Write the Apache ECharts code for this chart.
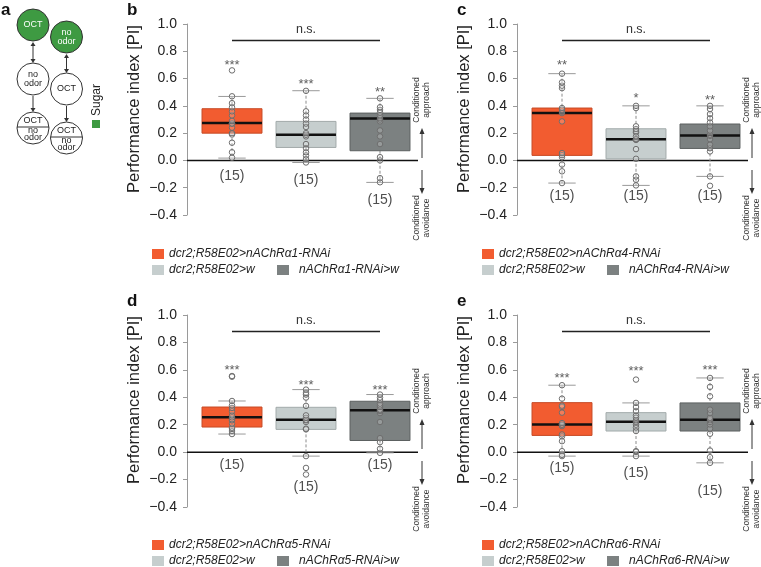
<!DOCTYPE html>
<html><head><meta charset="utf-8">
<script src="https://cdn.jsdelivr.net/npm/echarts@6/dist/echarts.min.js"></script>
<style>html,body{margin:0;padding:0;background:#fff}#c{width:761px;height:567px}</style>
</head><body><div id="c"></div>
<script>
// ---------- data ----------
const categories = ['RNAi', 'GAL4>w', 'UAS>w'];
const yMin = -0.4, yMax = 1.0, yStep = 0.2;
const sampleSizes = [15, 15, 15];

// [lower whisker, Q1, median, Q3, upper whisker]
const statsB = [[0.017, 0.200, 0.274, 0.379, 0.469], [-0.015, 0.095, 0.188, 0.286, 0.511], [-0.161, 0.071, 0.308, 0.347, 0.455]];
const statsC = [[-0.166, 0.037, 0.347, 0.384, 0.636], [-0.183, 0.012, 0.156, 0.232, 0.400], [-0.117, 0.088, 0.183, 0.267, 0.400]];
const statsD = [[0.132, 0.183, 0.254, 0.329, 0.373], [-0.029, 0.166, 0.237, 0.327, 0.456], [-0.005, 0.085, 0.305, 0.371, 0.420]];
const statsE = [[-0.029, 0.122, 0.202, 0.361, 0.488], [-0.029, 0.154, 0.222, 0.288, 0.359], [-0.078, 0.154, 0.237, 0.359, 0.541]];

const pointsB = [
  [0.02, 0.06, 0.13, 0.19, 0.20, 0.24, 0.27, 0.27, 0.29, 0.33, 0.36, 0.39, 0.42, 0.47, 0.66],
  [-0.015, 0.01, 0.037, 0.06, 0.09, 0.12, 0.176, 0.188, 0.20, 0.245, 0.27, 0.30, 0.33, 0.36, 0.51],
  [-0.16, -0.13, 0.00, 0.024, 0.12, 0.176, 0.22, 0.286, 0.30, 0.31, 0.33, 0.35, 0.37, 0.39, 0.455]
];
const pointsC = [
  [-0.166, -0.08, -0.03, 0.024, 0.039, 0.054, 0.286, 0.347, 0.357, 0.372, 0.384, 0.53, 0.548, 0.572, 0.636],
  [-0.183, -0.142, -0.117, 0.012, 0.083, 0.15, 0.155, 0.156, 0.176, 0.205, 0.215, 0.23, 0.25, 0.384, 0.40],
  [-0.186, -0.117, 0.066, 0.09, 0.115, 0.156, 0.18, 0.188, 0.218, 0.25, 0.279, 0.31, 0.34, 0.377, 0.40]
];
const pointsD = [
  [0.132, 0.154, 0.17, 0.178, 0.207, 0.232, 0.24, 0.254, 0.268, 0.298, 0.322, 0.341, 0.373, 0.55, 0.555],
  [-0.163, -0.115, -0.029, 0.166, 0.171, 0.22, 0.232, 0.237, 0.25, 0.268, 0.337, 0.398, 0.42, 0.432, 0.456],
  [-0.005, 0.024, 0.073, 0.102, 0.22, 0.285, 0.30, 0.305, 0.31, 0.329, 0.34, 0.354, 0.38, 0.398, 0.42]
];
const pointsE = [
  [-0.029, -0.02, 0.007, 0.08, 0.115, 0.129, 0.19, 0.2, 0.2, 0.212, 0.288, 0.33, 0.339, 0.39, 0.488],
  [-0.029, 0.002, 0.007, 0.154, 0.18, 0.2, 0.215, 0.222, 0.232, 0.251, 0.268, 0.3, 0.329, 0.359, 0.529],
  [-0.078, -0.037, 0.012, 0.134, 0.171, 0.202, 0.22, 0.232, 0.24, 0.251, 0.285, 0.31, 0.407, 0.476, 0.541]
];

const starsB = ['***', '***', '**'], starYB = [0.72, 0.58, 0.523], nYB = [-0.117, -0.147, -0.289];
const starsC = ['**', '*', '**'], starYC = [0.72, 0.477, 0.462], nYC = [-0.26, -0.26, -0.26];
const starsD = ['***', '***', '***'], starYD = [0.617, 0.507, 0.471], nYD = [-0.093, -0.256, -0.093];
const starsE = ['***', '***', '***'], starYE = [0.561, 0.61, 0.617], nYE = [-0.117, -0.151, -0.288];
const nsLevel = 0.88;

const legendB = ['dcr2;R58E02>nAChRα1-RNAi', 'dcr2;R58E02>w', 'nAChRα1-RNAi>w'];
const legendC = ['dcr2;R58E02>nAChRα4-RNAi', 'dcr2;R58E02>w', 'nAChRα4-RNAi>w'];
const legendD = ['dcr2;R58E02>nAChRα5-RNAi', 'dcr2;R58E02>w', 'nAChRα5-RNAi>w'];
const legendE = ['dcr2;R58E02>nAChRα6-RNAi', 'dcr2;R58E02>w', 'nAChRα6-RNAi>w'];

// ---------- style / layout ----------
const FONT = '"Liberation Sans", Arial, Helvetica, sans-serif';
const boxFill = ['#F25C30', '#C6CECE', '#7C8181'];
const boxEdge = ['#C64A25', '#A2AAAA', '#5C6060'];
const GREEN = '#3E9A42';

const panels = [
  {letter: 'b', gx: 187, gy: 24, gh: 191, stats: statsB, pts: pointsB, stars: starsB, starY: starYB, nY: nYB, legend: legendB},
  {letter: 'c', gx: 517, gy: 24, gh: 191, stats: statsC, pts: pointsC, stars: starsC, starY: starYC, nY: nYC, legend: legendC},
  {letter: 'd', gx: 187, gy: 315, gh: 192, stats: statsD, pts: pointsD, stars: starsD, starY: starYD, nY: nYD, legend: legendD},
  {letter: 'e', gx: 517, gy: 315, gh: 192, stats: statsE, pts: pointsE, stars: starsE, starY: starYE, nY: nYE, legend: legendE}
];

function renderBox(params, api) {
  const c = api.value(0);
  const lo = api.coord([c, api.value(1)]);
  const q1 = api.coord([c, api.value(2)]);
  const md = api.coord([c, api.value(3)]);
  const q3 = api.coord([c, api.value(4)]);
  const hi = api.coord([c, api.value(5)]);
  const band = api.size([1, 0])[0];
  const bw = band * 0.81, cw = band * 0.37;
  const x = lo[0];
  const i = params.dataIndex;
  const dash = {stroke: '#8c8c8c', lineWidth: 1, lineDash: [3, 2]};
  const cap = {stroke: '#9a9a9a', lineWidth: 1};
  return {type: 'group', children: [
    {type: 'line', shape: {x1: x, y1: hi[1], x2: x, y2: q3[1]}, style: dash},
    {type: 'line', shape: {x1: x, y1: q1[1], x2: x, y2: lo[1]}, style: dash},
    {type: 'line', shape: {x1: x - cw / 2, y1: hi[1], x2: x + cw / 2, y2: hi[1]}, style: cap},
    {type: 'line', shape: {x1: x - cw / 2, y1: lo[1], x2: x + cw / 2, y2: lo[1]}, style: cap},
    {type: 'rect', shape: {x: x - bw / 2, y: q3[1], width: bw, height: q1[1] - q3[1]}, style: {fill: boxFill[i], stroke: boxEdge[i], lineWidth: 1}},
    {type: 'line', shape: {x1: x - bw / 2, y1: md[1], x2: x + bw / 2, y2: md[1]}, style: {stroke: '#111', lineWidth: 2.5}}
  ]};
}

const grid = [], xAxis = [], yAxis = [], series = [], graphic = [];

panels.forEach((p, k) => {
  const gm = 2 * k, ga = 2 * k + 1;
  grid.push({left: p.gx + 8, top: p.gy, width: 222, height: p.gh});
  grid.push({left: p.gx, top: p.gy, width: 231, height: p.gh});
  xAxis.push({gridIndex: gm, type: 'category', data: categories, show: false});
  xAxis.push({gridIndex: ga, type: 'value', min: 0, max: 1, show: false});
  yAxis.push({
    gridIndex: gm, type: 'value', min: yMin, max: yMax, interval: yStep, offset: 8,
    axisLine: {show: true, lineStyle: {color: '#9a9a9a', width: 1}},
    axisTick: {show: true, length: 4, lineStyle: {color: '#9a9a9a'}},
    axisLabel: {fontSize: 14, color: '#222', margin: 10, fontFamily: FONT,
      formatter: v => (v < -1e-9 ? '\u2212' : '') + Math.abs(v).toFixed(1)},
    splitLine: {show: false}
  });
  yAxis.push({gridIndex: ga, type: 'value', min: yMin, max: yMax, show: false});

  series.push({
    type: 'custom', xAxisIndex: gm, yAxisIndex: gm, z: 2,
    data: p.stats.map((s, i) => [i].concat(s)),
    encode: {x: 0, y: [1, 2, 3, 4, 5]},
    renderItem: renderBox, silent: true
  });
  const pd = [];
  p.pts.forEach((arr, i) => arr.forEach(v => pd.push([i, v])));
  series.push({
    type: 'scatter', xAxisIndex: gm, yAxisIndex: gm, z: 3, silent: true,
    data: pd, symbol: 'circle', symbolSize: 5.5,
    itemStyle: {color: 'rgba(255,255,255,0.2)', borderColor: '#6e6e6e', borderWidth: 1, opacity: 1},
    markLine: {
      silent: true, symbol: ['none', 'none'],
      lineStyle: {color: '#222', width: 1.3, type: 'solid'},
      label: {show: true, position: 'middle', formatter: 'n.s.', fontSize: 12.5, color: '#333', fontFamily: FONT, distance: 4},
      data: [[{coord: [0, nsLevel]}, {coord: [2, nsLevel]}]]
    }
  });
  series.push({
    type: 'scatter', xAxisIndex: gm, yAxisIndex: gm, z: 4, silent: true,
    data: p.stars.map((t, i) => [i, p.starY[i], t]), symbolSize: 0,
    label: {show: true, position: 'inside', formatter: q => q.value[2], fontSize: 13, color: '#333', fontFamily: FONT, offset: [0, 3]}
  });
  series.push({
    type: 'scatter', xAxisIndex: gm, yAxisIndex: gm, z: 4, silent: true,
    data: sampleSizes.map((n, i) => [i, p.nY[i], n]), symbolSize: 0,
    label: {show: true, position: 'inside', formatter: q => '(' + q.value[2] + ')', fontSize: 14, color: '#222', fontFamily: FONT}
  });
  series.push({
    type: 'line', xAxisIndex: ga, yAxisIndex: ga, z: 1, silent: true, symbol: 'none',
    data: [[0, 0], [1, 0]], lineStyle: {color: '#111', width: 1.5}
  });

  // decorations
  graphic.push({type: 'text', left: p.gx - 60, top: p.gy - 22, style: {text: p.letter, font: 'bold 17px ' + FONT, fill: '#111'}});
  graphic.push({type: 'text', x: p.gx - 53, y: p.gy + 85, rotation: Math.PI / 2,
    style: {text: 'Performance index [PI]', font: '16.5px ' + FONT, fill: '#222', align: 'center', verticalAlign: 'middle'}});
  const ax = p.gx + 235, oy = p.gy;
  graphic.push({type: 'text', x: ax, y: oy + 76, rotation: Math.PI / 2,
    style: {text: 'Conditioned\napproach', font: '8.5px ' + FONT, fill: '#333', align: 'center', verticalAlign: 'middle', lineHeight: 10}});
  graphic.push({type: 'text', x: ax, y: oy + 194, rotation: Math.PI / 2,
    style: {text: 'Conditioned\navoidance', font: '8.5px ' + FONT, fill: '#333', align: 'center', verticalAlign: 'middle', lineHeight: 10}});
  graphic.push({type: 'line', shape: {x1: ax, y1: oy + 134, x2: ax, y2: oy + 109}, style: {stroke: '#333', lineWidth: 1}});
  graphic.push({type: 'polygon', shape: {points: [[ax - 2.5, oy + 110], [ax + 2.5, oy + 110], [ax, oy + 104]]}, style: {fill: '#333'}});
  graphic.push({type: 'line', shape: {x1: ax, y1: oy + 146, x2: ax, y2: oy + 165}, style: {stroke: '#333', lineWidth: 1}});
  graphic.push({type: 'polygon', shape: {points: [[ax - 2.5, oy + 164], [ax + 2.5, oy + 164], [ax, oy + 170]]}, style: {fill: '#333'}});
  // legend
  const lx = p.gx - 35, ly = p.gy + 230;
  const items = [[lx, ly, 0, lx + 17], [lx, ly + 16, 1, lx + 17], [lx + 125, ly + 16, 2, lx + 147]];
  items.forEach(([sx, sy, i, tx]) => {
    graphic.push({type: 'rect', shape: {x: sx, y: sy - 5, width: 12, height: 10}, style: {fill: boxFill[i]}});
    graphic.push({type: 'text', x: tx, y: sy, style: {text: p.legend[i], font: 'italic 12px ' + FONT, fill: '#222', verticalAlign: 'middle'}});
  });
});

// ---------- panel a: protocol scheme ----------
graphic.push({type: 'text', left: 1, top: 2, style: {text: 'a', font: 'bold 17px ' + FONT, fill: '#111'}});
const R = 16;
function circ(cx, cy, fill) {
  graphic.push({type: 'circle', shape: {cx: cx, cy: cy, r: R}, style: {fill: fill, stroke: '#333', lineWidth: 1}});
}
function txt(x, y, t, col) {
  graphic.push({type: 'text', x: x, y: y, style: {text: t, font: '9px ' + FONT, fill: col || '#222', align: 'center', verticalAlign: 'middle'}});
}
circ(33, 25, GREEN); txt(33, 25, 'OCT', '#fff');
circ(66.5, 37, GREEN); txt(66.5, 33, 'no', '#fff'); txt(66.5, 42, 'odor', '#fff');
circ(33, 79, '#fff'); txt(33, 75, 'no'); txt(33, 84, 'odor');
circ(66.5, 89, '#fff'); txt(66.5, 89, 'OCT');
[[33, 128], [66.5, 138]].forEach(([cx, cy]) => {
  circ(cx, cy, '#fff');
  graphic.push({type: 'line', shape: {x1: cx - R, y1: cy - 1, x2: cx + R, y2: cy - 1}, style: {stroke: '#333', lineWidth: 1}});
  txt(cx, cy - 7, 'OCT'); txt(cx, cy + 3, 'no'); txt(cx, cy + 10, 'odor');
});
function vArrow(x, y1, y2, both) {
  graphic.push({type: 'line', shape: {x1: x, y1: y1 + (both ? 3 : 0), x2: x, y2: y2 - 3}, style: {stroke: '#333', lineWidth: 1}});
  graphic.push({type: 'polygon', shape: {points: [[x - 2.5, y2 - 4], [x + 2.5, y2 - 4], [x, y2]]}, style: {fill: '#333'}});
  if (both) graphic.push({type: 'polygon', shape: {points: [[x - 2.5, y1 + 4], [x + 2.5, y1 + 4], [x, y1]]}, style: {fill: '#333'}});
}
vArrow(33, 42, 63, true);
vArrow(66.5, 54, 73, true);
vArrow(33, 96, 112, false);
vArrow(66.5, 106, 122, false);
graphic.push({type: 'text', x: 97, y: 100, rotation: Math.PI / 2, style: {text: 'Sugar', font: '12px ' + FONT, fill: '#222', align: 'center', verticalAlign: 'middle'}});
graphic.push({type: 'rect', shape: {x: 92, y: 120, width: 8, height: 8}, style: {fill: GREEN}});

const chart = echarts.init(document.getElementById('c'), null, {renderer: 'canvas'});
chart.setOption({
  animation: false,
  backgroundColor: '#fff',
  textStyle: {fontFamily: FONT},
  grid: grid, xAxis: xAxis, yAxis: yAxis, series: series, graphic: graphic
});
</script>
</body></html>
